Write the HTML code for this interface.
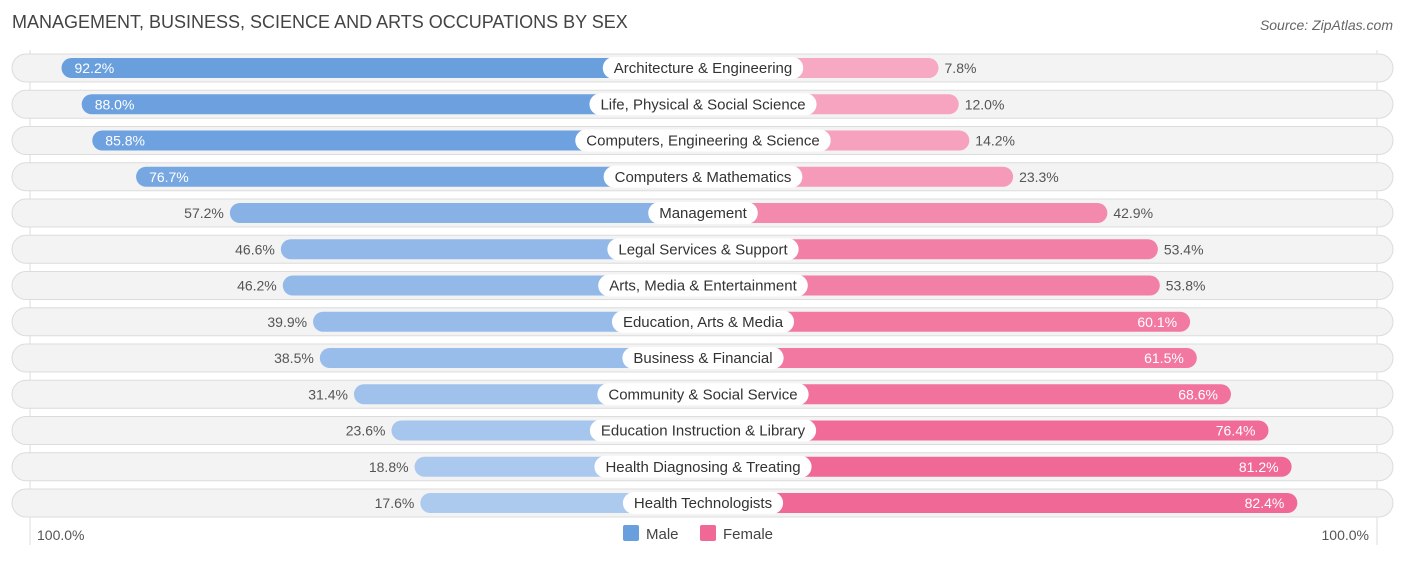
<!DOCTYPE html>
<html><head><meta charset="utf-8"><style>
body{margin:0;background:#fff;font-family:"Liberation Sans",sans-serif;}
svg text{font-family:"Liberation Sans",sans-serif;}
</style></head><body>
<svg id="chart" width="1406" height="559" xmlns="http://www.w3.org/2000/svg">
<text x="12" y="28" font-size="18" fill="#444">MANAGEMENT, BUSINESS, SCIENCE AND ARTS OCCUPATIONS BY SEX</text>
<text x="1393" y="30" font-size="14" fill="#666" text-anchor="end" font-style="italic">Source: ZipAtlas.com</text>
<line x1="30" y1="50" x2="30" y2="545" stroke="#ddd"/>
<line x1="1377" y1="50" x2="1377" y2="545" stroke="#ddd"/>
<g id="rows"></g>
<text x="37" y="540" font-size="14" fill="#555">100.0%</text>
<text x="1369" y="540" font-size="14" fill="#555" text-anchor="end">100.0%</text>
<g><rect x="623" y="525" width="16" height="16" rx="2" fill="#6a9fde"/><text x="646" y="539" font-size="15" fill="#444">Male</text></g>
<g><rect x="700" y="525" width="16" height="16" rx="2" fill="#f06895"/><text x="723" y="539" font-size="15" fill="#444">Female</text></g>
</svg>
<script>
const categories=["Architecture & Engineering","Life, Physical & Social Science","Computers, Engineering & Science","Computers & Mathematics","Management","Legal Services & Support","Arts, Media & Entertainment","Education, Arts & Media","Business & Financial","Community & Social Service","Education Instruction & Library","Health Diagnosing & Treating","Health Technologists"];
const maleValues=[92.2,88.0,85.8,76.7,57.2,46.6,46.2,39.9,38.5,31.4,23.6,18.8,17.6];
const femaleValues=[7.8,12.0,14.2,23.3,42.9,53.4,53.8,60.1,61.5,68.6,76.4,81.2,82.4];
const NS="http://www.w3.org/2000/svg";
const g=document.getElementById('rows');
const cx=703, off=198, scale=4.81;
function xMale(v){return cx-off-v*scale;}
function xFemale(v){return cx+off+v*scale;}
function yRow(i){return 68+i*36.25;}
function mix(a,b,t){const p=s=>[1,3,5].map(k=>parseInt(s.substr(k,2),16));const A=p(a),B=p(b);return 'rgb('+A.map((x,k)=>Math.round(x+(B[k]-x)*t)).join(',')+')';}
function el(tag,attrs,parent){const e=document.createElementNS(NS,tag);for(const k in attrs)e.setAttribute(k,attrs[k]);parent.appendChild(e);return e;}
categories.forEach((c,i)=>{
  const y=yRow(i);
  const row=el('g',{},g);
  
  
  const bg=el('rect',{x:12,y:y-14,width:1381,height:28,rx:14,fill:'#f3f3f3',stroke:'#dcdcdc'},row);
  
  
  const m=maleValues[i],f=femaleValues[i];
  const mx=xMale(m);
  const mb=el('rect',{x:mx,y:y-10,width:cx-mx,height:20,rx:10,fill:mix('#aecbef','#6a9fde',Math.min(1,Math.max(0,(m-15)/75)))},row);
  
  
  const fx=xFemale(f);
  const fb=el('rect',{x:cx,y:y-10,width:fx-cx,height:20,rx:10,fill:mix('#f7aac4','#f06895',Math.min(1,Math.max(0,(f-5)/75)))},row);
  
  
  const mIn=m>=60, fIn=f>=60;
  const mt=el('text',{x:mIn?mx+13:mx-6,y:y+5,'font-size':14,fill:mIn?'#fff':'#555','text-anchor':mIn?'start':'end'},row);
  mt.textContent=m.toFixed(1)+'%';
  
  
  const ft=el('text',{x:fIn?fx-13:fx+6,y:y+5,'font-size':14,fill:fIn?'#fff':'#555','text-anchor':fIn?'end':'start'},row);
  ft.textContent=f.toFixed(1)+'%';
  
  
  const lt=el('text',{x:cx,y:y+5,'font-size':15,fill:'#333','text-anchor':'middle'},row);
  lt.textContent=c;
  
  
  const w=lt.getComputedTextLength()+22;
  const pill=el('rect',{x:cx-w/2,y:y-11,width:w,height:22,rx:11,fill:'#fff'},row);
  
  
  row.insertBefore(pill,lt);
});
</script>
</body></html>
